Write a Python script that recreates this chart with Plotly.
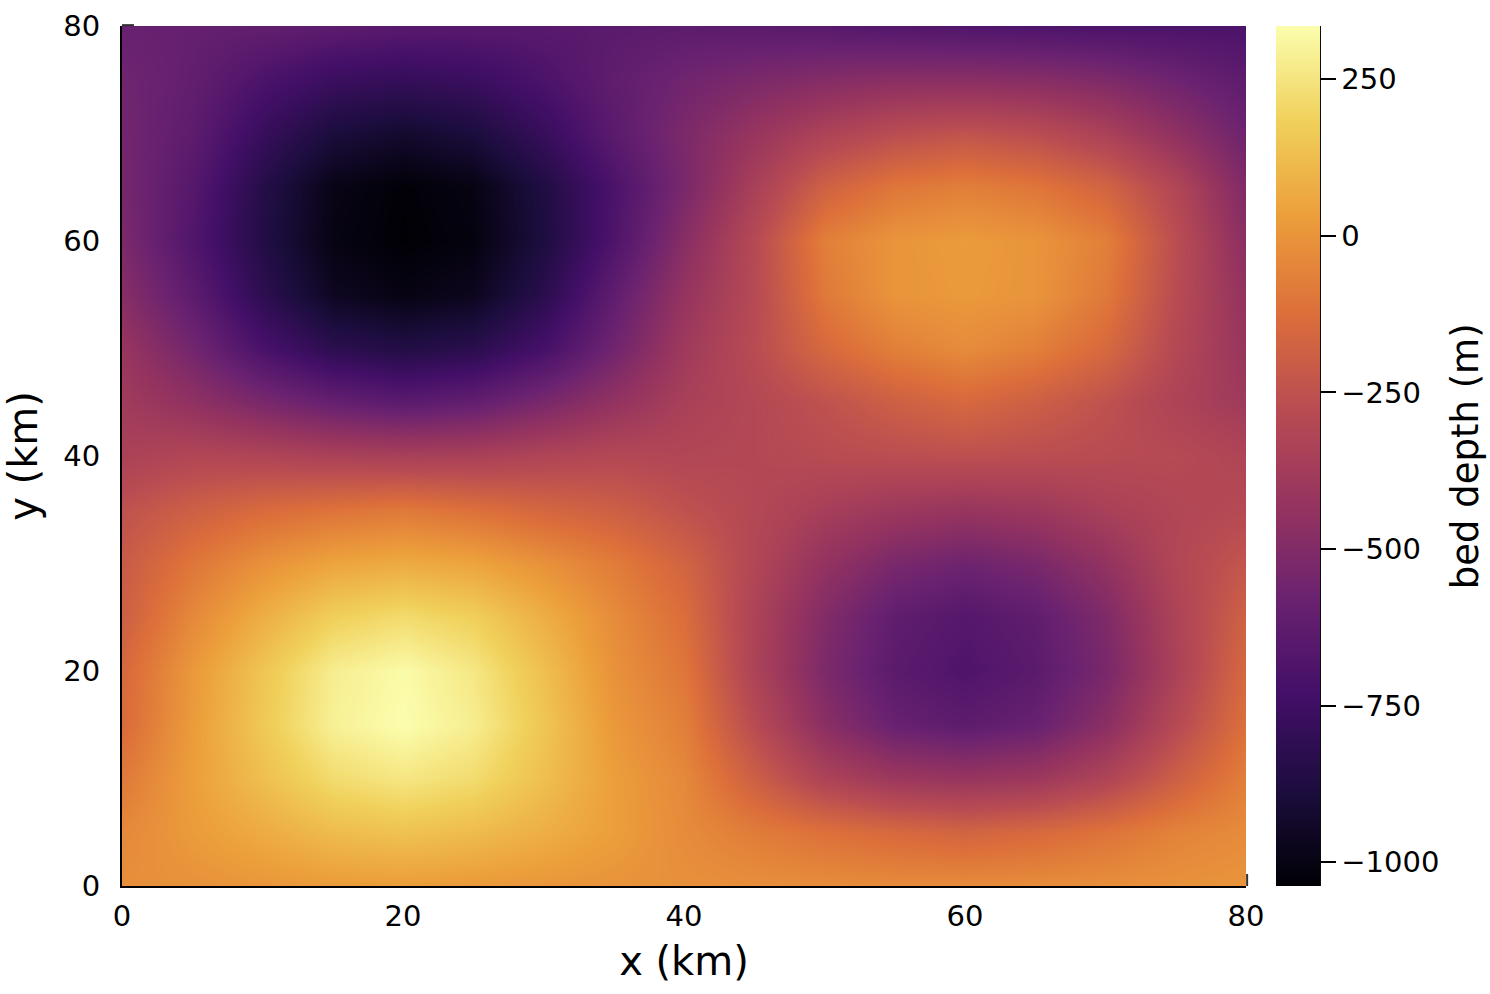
import plotly.graph_objects as go

# grid, every 5 km
x_km = [0, 5, 10, 15, 20, 25, 30, 35, 40, 45, 50, 55, 60, 65, 70, 75, 80]
y_km = [0, 5, 10, 15, 20, 25, 30, 35, 40, 45, 50, 55, 60, 65, 70, 75, 80]

# bed depth (m), one row per y value, bottom row first
bed_depth = [
    [-20, -10, 5, 20, 25, 15, 5, -5, -15, -20, -25, -30, -30, -25, -20, -10, 0],
    [-40, 20, 70, 120, 140, 120, 80, 30, -30, -80, -120, -150, -170, -150, -110, -60, -30],
    [-90, 30, 130, 220, 255, 220, 130, 30, -40, -190, -330, -400, -420, -400, -320, -190, -70],
    [-140, 20, 160, 290, 335, 280, 150, 10, -70, -280, -470, -590, -630, -590, -470, -290, -120],
    [-150, 10, 150, 280, 325, 260, 130, -10, -100, -330, -520, -640, -690, -640, -530, -340, -150],
    [-190, -40, 80, 180, 220, 180, 80, -30, -130, -330, -500, -620, -665, -620, -510, -330, -180],
    [-210, -100, -10, 50, 70, 50, -10, -80, -170, -310, -440, -530, -570, -530, -440, -310, -230],
    [-250, -190, -140, -110, -90, -120, -160, -190, -250, -300, -360, -400, -420, -400, -350, -310, -290],
    [-340, -310, -320, -340, -350, -345, -320, -300, -310, -300, -280, -270, -260, -270, -280, -290, -320],
    [-380, -450, -530, -600, -640, -610, -530, -440, -350, -300, -250, -190, -150, -190, -250, -330, -390],
    [-420, -550, -710, -820, -860, -830, -720, -560, -390, -280, -150, -70, -30, -70, -150, -300, -420],
    [-480, -630, -820, -960, -1000, -970, -830, -620, -430, -290, -90, 0, 15, 0, -90, -280, -440],
    [-520, -680, -860, -1000, -1035, -1010, -880, -690, -480, -290, -70, 0, 20, 0, -70, -270, -470],
    [-540, -660, -850, -990, -1030, -1000, -870, -700, -530, -350, -180, -100, -70, -100, -170, -310, -510],
    [-550, -630, -780, -890, -930, -890, -780, -640, -520, -420, -330, -270, -240, -270, -340, -450, -570],
    [-560, -610, -700, -770, -790, -770, -700, -620, -560, -520, -490, -470, -470, -480, -510, -570, -630],
    [-590, -600, -610, -630, -650, -650, -650, -640, -630, -640, -650, -670, -680, -690, -700, -700, -700],
]

axis_ticks = [0, 20, 40, 60, 80]
cbar_ticks = [-1000, -750, -500, -250, 0, 250]
z_min = -1038
z_max = 335

# inferno as it shows in the reference, less saturated than the stock one
inferno_muted = ['#000004', '#1c0d3e', '#430f68', '#6a2270', '#96345f', '#b94c52',
                 '#dc6f3a', '#ec9e3b', '#f0d05a', '#fbfeae']

fig = go.Figure(go.Heatmap(
    x=x_km, y=y_km, z=bed_depth,
    colorscale=[[i / (len(inferno_muted) - 1), c] for i, c in enumerate(inferno_muted)],
    zmin=z_min, zmax=z_max, zsmooth='best',
    colorbar=dict(
        x=1.0267, xanchor='left', xpad=0, y=0.5, yanchor='middle', ypad=0,
        len=1, thickness=44, outlinewidth=0,
        tickmode='array', tickvals=cbar_ticks,
        ticks='outside', ticklen=16, tickwidth=2, tickcolor='black',
        tickfont=dict(size=29, color='black'),
    ),
))

axis_style = dict(
    range=[0, 80], tickmode='array', tickvals=axis_ticks,
    ticks='inside', ticklen=12, tickwidth=3, tickcolor='#333333',
    showgrid=False, zeroline=False, showline=True, linecolor='black', linewidth=2,
    layer='below traces', tickfont=dict(size=29, color='black'),
)
fig.update_xaxes(title=dict(text='x (km)', font=dict(size=40, color='black'), standoff=15),
                 ticklabelstandoff=3, **axis_style)
fig.update_yaxes(title=dict(text='y (km)', font=dict(size=40, color='black'), standoff=24),
                 ticklabelstandoff=14, **axis_style)

# right edge of the colorbar, the bar outline would draw all four sides
fig.add_shape(type='line', xref='paper', yref='paper', x0=1.0658, x1=1.0658, y0=0, y1=1,
              line=dict(color='black', width=2))
# corner ticks, the heatmap hides the rest of them
fig.add_shape(type='line', xref='paper', yref='paper', x0=0, x1=0.0107, y0=1.001, y1=1.001,
              line=dict(color='#333333', width=2))
fig.add_shape(type='line', xref='paper', yref='paper', x0=1.001, x1=1.001, y0=0, y1=0.014,
              line=dict(color='#333333', width=2))
fig.add_annotation(text='bed depth (m)', xref='paper', yref='paper', x=1.216, y=0.5,
                   textangle=-90, showarrow=False, font=dict(size=37, color='black'))

fig.update_layout(
    width=1490, height=994,
    margin=dict(l=122, r=244, t=26, b=108, autoexpand=False),
    paper_bgcolor='white', plot_bgcolor='white',
    font=dict(family='DejaVu Sans'),
)

fig.write_html("out.html", config=dict(displayModeBar=False),
               post_script="document.body.style.margin='0';")
